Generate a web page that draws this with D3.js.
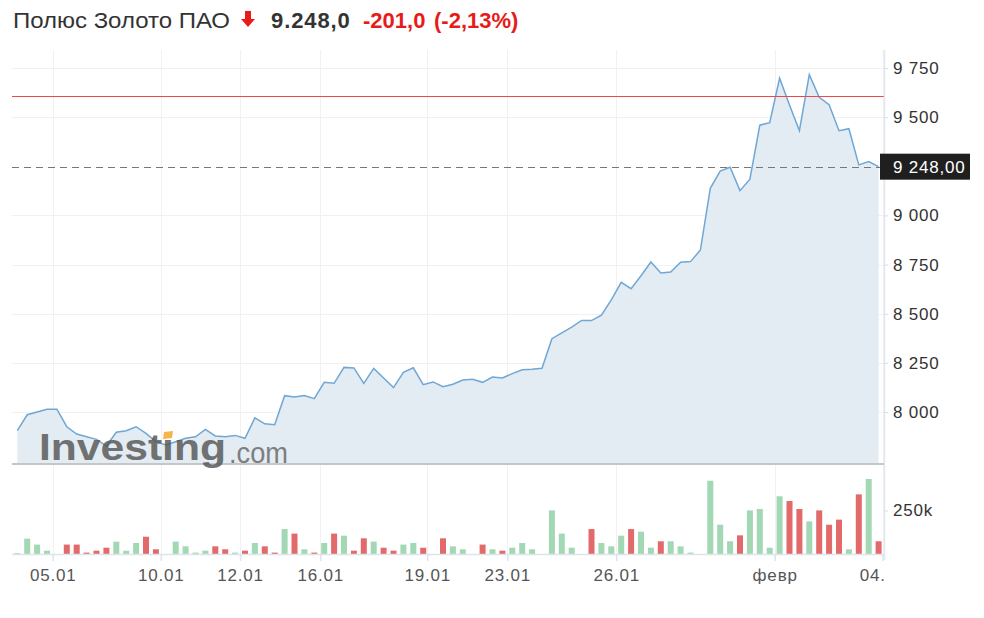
<!DOCTYPE html>
<html>
<head>
<meta charset="utf-8">
<script src="https://cdnjs.cloudflare.com/ajax/libs/d3/7.8.5/d3.min.js"></script>
<style>
  body { margin: 0; background: #fff; }
  svg { display: block; font-family: "Liberation Sans", Arial, sans-serif; }
</style>
</head>
<body>
<div id="chart"></div>
<script>
// close prices, one per bar
var prices = [7905,7986,8000,8014,8014,7925,7888,7874,7861,7827,
  7897,7905,7925,7891,7849,7832,7849,7866,7874,7912,
  7878,7874,7881,7866,7970,7940,7935,8083,8076,8084,
  8068,8151,8146,8227,8224,8146,8222,8173,8124,8202,
  8225,8139,8153,8129,8141,8163,8166,8151,8178,8173,
  8195,8215,8217,8222,8373,8403,8432,8466,8465,8493,
  8570,8660,8627,8693,8763,8707,8712,8762,8765,8824,
  9138,9226,9245,9126,9184,9459,9472,9698,9562,9431,
  9716,9601,9563,9431,9441,9257,9274,9248];

// volume, thousands
var volumes = [5,88,54,19,0,54,54,8,19,36,
  71,19,63,99,27,0,71,44,8,19,
  44,27,8,19,63,44,8,143,117,27,
  8,63,117,105,19,90,71,36,19,54,
  63,36,0,90,44,27,0,54,27,19,
  36,63,27,0,250,117,36,0,143,63,
  44,105,143,128,36,73,73,44,8,0,
  420,168,73,107,250,258,36,331,304,258,
  187,250,168,197,27,342,430,73];

var priceTicks = [8000, 8250, 8500, 8750, 9000, 9500, 9750];
var volumeTicks = [250];
var dateTickPos = [3.57, 14.5, 22.5, 30.6, 41.4, 49.5, 60.5, 76.5, 87.4];
var dateTickLabels = ["05.01", "10.01", "12.01", "16.01", "19.01", "23.01", "26.01", "февр", "04.02"];
var lastPrice = 9248;
var levelLine = 9608;

var width = 984, height = 618;
var plotLeft = 12, plotRight = 884;
var priceTop = 50, priceBottom = 463;
var volBottom = 554;

var loc = d3.formatLocale({decimal: ",", thousands: " ", grouping: [3], currency: ["", ""]});
var fmt = loc.format(",d");
var fmt2 = loc.format(",.2f");

var svg = d3.select("#chart").append("svg")
  .attr("width", width).attr("height", height);

var x = d3.scaleLinear().domain([0, prices.length - 1]).range([17.3, 878.6]);
var y = d3.scaleLinear().domain([8000, 9750]).range([412, 68]);
var yv = d3.scaleLinear().domain([0, 250]).range([volBottom, 510.4]);

svg.append("defs").append("clipPath").attr("id", "xclip")
  .append("rect").attr("x", 0).attr("y", 0).attr("width", plotRight).attr("height", 60);

// grid
svg.append("g").selectAll("line").data(priceTicks).join("line")
  .attr("x1", plotLeft).attr("x2", plotRight)
  .attr("y1", d => Math.round(y(d)) + 0.5).attr("y2", d => Math.round(y(d)) + 0.5)
  .attr("stroke", "#f1f1f1").attr("stroke-width", 1);

svg.append("g").selectAll("line").data(dateTickPos).join("line")
  .attr("x1", d => Math.round(x(d)) + 0.5).attr("x2", d => Math.round(x(d)) + 0.5)
  .attr("y1", priceTop).attr("y2", volBottom)
  .attr("stroke", "#f1f1f1").attr("stroke-width", 1);

// area + line
var area = d3.area().x((d, i) => x(i)).y0(priceBottom).y1(d => y(d));
var line = d3.line().x((d, i) => x(i)).y(d => y(d));

svg.append("path").datum(prices).attr("d", area).attr("fill", "#e3ecf3");
svg.append("path").datum(prices).attr("d", line)
  .attr("fill", "none").attr("stroke", "#6fa7d6").attr("stroke-width", 1.5);

// level line and last price
svg.append("line").attr("x1", plotLeft).attr("x2", plotRight)
  .attr("y1", Math.round(y(levelLine)) + 0.5).attr("y2", Math.round(y(levelLine)) + 0.5)
  .attr("stroke", "#f04848").attr("stroke-width", 1);

svg.append("line").attr("x1", plotLeft).attr("x2", plotRight)
  .attr("y1", Math.round(y(lastPrice)) + 0.5).attr("y2", Math.round(y(lastPrice)) + 0.5)
  .attr("stroke", "#777").attr("stroke-width", 1).attr("stroke-dasharray", "7,5");

// separator
svg.append("line").attr("x1", plotLeft).attr("x2", plotRight)
  .attr("y1", priceBottom + 1).attr("y2", priceBottom + 1)
  .attr("stroke", "#c6c6c6").attr("stroke-width", 2);

// volume bars
svg.append("g").selectAll("rect").data(volumes).join("rect")
  .attr("x", (d, i) => x(i) - 3)
  .attr("width", 6)
  .attr("y", d => yv(d))
  .attr("height", d => volBottom - yv(d))
  .attr("fill", (d, i) => (i == 0 || prices[i] >= prices[i - 1]) ? "#a3d8b4" : "#e36a6a");

// volume baseline
svg.append("line").attr("x1", plotLeft).attr("x2", plotRight)
  .attr("y1", volBottom + 0.5).attr("y2", volBottom + 0.5)
  .attr("stroke", "#dde4ec").attr("stroke-width", 1.5);

// right axis line
svg.append("line").attr("x1", plotRight + 0.5).attr("x2", plotRight + 0.5)
  .attr("y1", priceTop).attr("y2", 560)
  .attr("stroke", "#e2e8ef").attr("stroke-width", 1.5);

function styleAxis(g, color) {
  g.select(".domain").remove();
  g.selectAll("line").attr("stroke", "#d8dee6");
  g.selectAll("text").attr("font-size", 17).attr("fill", color)
    .attr("letter-spacing", 0.8)
    .attr("font-family", "Liberation Sans, Arial, sans-serif");
}

// price axis
var ya = svg.append("g").attr("transform", "translate(" + plotRight + ",0)")
  .call(d3.axisRight(y).tickValues(priceTicks).tickSize(4).tickPadding(5).tickFormat(fmt));
styleAxis(ya, "#333");

// volume axis
var va = svg.append("g").attr("transform", "translate(" + plotRight + ",0)")
  .call(d3.axisRight(yv).tickValues(volumeTicks).tickSize(4).tickPadding(5).tickFormat(d => d + "k"));
styleAxis(va, "#333");

// date axis (clipped at the right axis, so the last label is cut)
var xa = svg.append("g").attr("transform", "translate(0," + (volBottom + 1) + ")")
  .attr("clip-path", "url(#xclip)");
var xg = xa.append("g")
  .call(d3.axisBottom(x).tickValues(dateTickPos).tickSize(6).tickPadding(8)
    .tickFormat((d, i) => dateTickLabels[i]));
styleAxis(xg, "#555");
xg.selectAll("line").attr("stroke", "#dde4ec").attr("stroke-width", 1.5);

// last price tag
var tagY = y(lastPrice);
svg.append("rect").attr("x", 880).attr("y", tagY - 13).attr("width", 90).attr("height", 26)
  .attr("fill", "#1f1f1f");
svg.append("text").attr("x", 893).attr("y", tagY + 6)
  .attr("font-size", 17).attr("letter-spacing", 0.8).attr("fill", "#fff").text(fmt2(lastPrice));

// watermark
var wm = svg.append("g").attr("opacity", 0.82);
wm.append("text").attr("x", 39).attr("y", 460)
  .attr("font-size", 36).attr("font-weight", "bold").attr("fill", "#555")
  .attr("textLength", 187).attr("lengthAdjust", "spacingAndGlyphs")
  .text("Investing");
wm.append("text").attr("x", 229).attr("y", 463)
  .attr("font-size", 29).attr("fill", "#666")
  .attr("textLength", 59).attr("lengthAdjust", "spacingAndGlyphs")
  .text(".com");
wm.append("path").attr("d", "M164,432 L173,431 L172,438 L163,439 Z").attr("fill", "#f5a623");

// title
var title = svg.append("g");
title.append("text").attr("x", 13).attr("y", 28).attr("font-size", 22).attr("fill", "#333")
  .attr("textLength", 217).attr("lengthAdjust", "spacingAndGlyphs")
  .text("Полюс Золото ПАО");
title.append("path").attr("d", "M245,11 L251,11 L251,19 L255,19 L248,27 L241,19 L245,19 Z")
  .attr("fill", "#e81b1b");
title.append("text").attr("x", 271).attr("y", 28).attr("font-size", 22).attr("font-weight", "bold")
  .attr("letter-spacing", 0.9).attr("fill", "#333").text("9.248,0");
title.append("text").attr("x", 363).attr("y", 28).attr("font-size", 22).attr("font-weight", "bold")
  .attr("fill", "#e81b1b").text("-201,0");
title.append("text").attr("x", 434).attr("y", 28).attr("font-size", 22).attr("font-weight", "bold")
  .attr("fill", "#e81b1b").text("(-2,13%)");
</script>
</body>
</html>
